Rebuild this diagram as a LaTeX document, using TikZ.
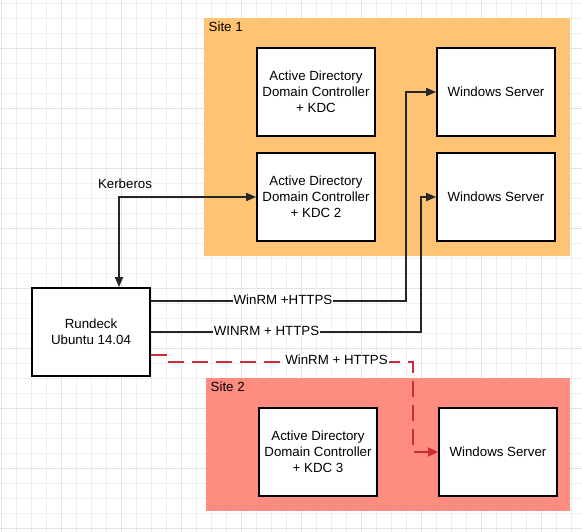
\documentclass[tikz,border=0pt]{standalone}
\usepackage{fontspec}
\setmainfont{Liberation Sans}
\usetikzlibrary{arrows.meta}
\definecolor{siteone}{HTML}{FFC374}
\definecolor{sitetwo}{HTML}{FF8C80}
\definecolor{redline}{HTML}{C92D39}
\definecolor{gridminor}{HTML}{EFEFEF}
\definecolor{gridmajor}{HTML}{E2E2E2}
\tikzset{
  box/.style={draw=black, fill=white, line width=1.8pt, minimum width=118pt, minimum height=88pt, inner sep=0pt, align=center, font=\fontsize{13.3}{16}\selectfont},
  conn/.style={draw=black!85, line width=1.8pt, -{Triangle[length=10pt,width=8pt]}},
  biconn/.style={draw=black!85, line width=1.8pt, {Triangle[length=10pt,width=8pt]}-{Triangle[length=10pt,width=8pt]}},
  redconn/.style={draw=redline, line width=1.6pt, dash pattern=on 16pt off 8pt, -{Triangle[length=10pt,width=9pt]}},
  lbl/.style={fill=white, inner sep=1pt, font=\fontsize{13.3}{16}\selectfont},
  sitelbl/.style={anchor=west, inner sep=0pt, font=\fontsize{13.3}{16}\selectfont},
}
\begin{document}
\begin{tikzpicture}[x=1pt,y=-1pt]
\useasboundingbox (0,0) rectangle (582,532);
\fill[white] (0,0) rectangle (582,532);
% grid
\foreach \i in {0,...,38} {
  \pgfmathsetmacro{\gx}{1.3+15*\i}
  \pgfmathtruncatemacro{\m}{mod(\i,4)}
  \ifnum\m=0
    \draw[gridmajor, line width=0.9pt] (\gx,0) -- (\gx,532);
  \else
    \draw[gridminor, line width=0.8pt] (\gx,0) -- (\gx,532);
  \fi
}
\foreach \j in {0,...,35} {
  \pgfmathsetmacro{\gy}{3.3+15*\j}
  \pgfmathtruncatemacro{\m}{mod(\j,4)}
  \ifnum\m=3
    \draw[gridmajor, line width=0.9pt] (0,\gy) -- (582,\gy);
  \else
    \draw[gridminor, line width=0.8pt] (0,\gy) -- (582,\gy);
  \fi
}
% sites
\fill[siteone] (204,18) rectangle (570,256);
\fill[sitetwo] (206,378) rectangle (570,511);
\node[sitelbl] (s1) at (208.5,27) {Site 1};
\node[sitelbl] (s2) at (210.5,387) {Site 2};
% boxes
\node[box] (AD1) at (316,92) {Active Directory\\Domain Controller\\+ KDC};
\node[box] (AD2) at (316,197) {Active Directory\\Domain Controller\\+ KDC 2};
\node[box] (WS1) at (496,92) {Windows Server};
\node[box] (WS2) at (496,197) {Windows Server};
\node[box] (RD) at (91,332) {Rundeck\\Ubuntu 14.04};
\node[box] (AD3) at (318,452) {Active Directory\\Domain Controller\\+ KDC 3};
\node[box] (WS3) at (498,452) {Windows Server};
% coordinates
\coordinate (k1) at (119,197);
\coordinate (w1) at (406,301);
\coordinate (w2) at (421,332);
\coordinate (r0) at (151,355);
\coordinate (r1) at (166,355);
\coordinate (r2) at (166,362);
\coordinate (r3) at (413,362);
% connectors
\draw[biconn] (AD2.west) -- (k1) -- (RD.north -| k1);
\node[font=\fontsize{13.3}{16}\selectfont, inner sep=0pt] (kl) at (125,184) {Kerberos};
\draw[conn] (RD.east |- w1) -- (w1) |- (WS1.west);
\draw[conn] (RD.east |- w2) -- (w2) |- (WS2.west);
\draw[redconn] (RD.east |- r0) -- (r1) -- (r2) -- (r3) |- (WS3.west);
\node[lbl] (l1) at (283,299.5) {WinRM +HTTPS};
\node[lbl] (l2) at (266.5,330.5) {WINRM + HTTPS};
\node[lbl] (l3) at (336.5,359.5) {WinRM + HTTPS};
\end{tikzpicture}
\end{document}
